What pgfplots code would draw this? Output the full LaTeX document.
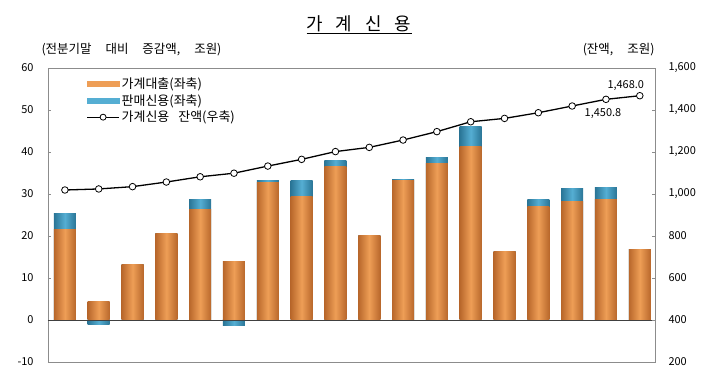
\documentclass[border=0pt]{standalone}
\usepackage{fontspec}
\setmainfont{Noto Sans CJK KR}
\usepackage{pgfplots}
\usepackage{pgfplotstable}
\pgfplotsset{compat=1.18}
\definecolor{org}{HTML}{EE9E56}
\definecolor{orgdark}{HTML}{B8672B}
\definecolor{blu}{HTML}{55AED3}
\definecolor{bludark}{HTML}{2A7596}
\definecolor{axgray}{HTML}{8C8C8C}

\pgfplotstableread{
x loan sales balance
0 21.5 3.9 1019
1 4.5 -1.0 1024
2 13.3 0 1035
3 20.5 0 1057
4 26.3 2.3 1082
5 14.0 -1.2 1099
6 32.7 0.4 1133
7 29.4 3.8 1165
8 36.5 1.4 1202
9 20.2 0 1222
10 33.2 0.3 1257
11 37.3 1.4 1297
12 41.3 4.7 1344
13 16.4 0 1360
14 27.1 1.5 1387
15 28.2 3.0 1419
16 28.6 2.9 1450.8
17 16.8 0 1468.0
}\data

\begin{document}
\begin{tikzpicture}
\path[use as bounding box] (0,0) rectangle (720bp,370bp);
\begin{axis}[
  at={(48bp,8bp)}, anchor=south west,
  width=607bp, height=294bp, scale only axis,
  xmin=-0.5, xmax=17.45, ymin=-10, ymax=60,
  ytick={-10,0,...,60}, xtick=\empty, ytick pos=left,
  axis line style={axgray}, tick style={axgray},
  tick align=inside, major tick length=3bp,
  yticklabel style={font=\fontsize{11}{13}\selectfont, xshift=-11bp},
  /pgf/number format/assume math mode=true,
]
\pgfplotsinvokeforeach{0,...,17}{
\addplot[ybar, bar width=22bp, bar shift=0pt, draw=none,
  left color=bludark, right color=bludark, middle color=blu,
  restrict x to domain=#1:#1]
  table[x=x, y expr={\thisrow{sales}<0 ? \thisrow{sales} : \thisrow{loan}+\thisrow{sales}}] {\data};
\addplot[ybar, bar width=22bp, bar shift=0pt, draw=none,
  left color=orgdark, right color=orgdark, middle color=org,
  restrict x to domain=#1:#1]
  table[x=x, y=loan] {\data};
}
\draw[black!75, line width=0.8bp] (axis cs:-0.5,0) -- (axis cs:17.45,0);
\end{axis}
\begin{axis}[
  at={(48bp,8bp)}, anchor=south west,
  width=607bp, height=294bp, scale only axis,
  xmin=-0.5, xmax=17.45, ymin=200, ymax=1600,
  ytick={200,400,...,1600},
  axis y line*=right, axis x line=none,
  axis line style={axgray}, tick style={axgray},
  tick align=inside, major tick length=3bp,
  yticklabel style={font=\fontsize{11}{13}\selectfont, xshift=10bp},
  /pgf/number format/assume math mode=true,
  /pgf/number format/1000 sep={,},
  legend style={at={(0.063,0.975)}, anchor=north west, draw=none, fill=none,
    font=\fontsize{13}{15}\selectfont, row sep=0.5bp, inner sep=0pt},
  legend cell align=left,
]
\addlegendimage{legend image code/.code={\fill[org] (0bp,-2.5bp) rectangle (32bp,2.5bp);}}
\addlegendentry{가계대출(좌축)}
\addlegendimage{legend image code/.code={\fill[blu] (0bp,-2.5bp) rectangle (32bp,2.5bp);}}
\addlegendentry{판매신용(좌축)}
\addplot[black, line width=1.3bp, mark=*, mark size=3.3bp,
  mark options={fill=white, draw=black, line width=0.8bp},
  legend image code/.code={\draw[black, line width=1.3bp] (0bp,0bp) -- (32bp,0bp);
    \draw[black, fill=white, line width=0.8bp] (16bp,0bp) circle (3bp);}]
  table[x=x, y=balance] {\data};
\addlegendentry{가계신용\hspace{9bp}잔액(우축)}
\node[font=\fontsize{11}{13}\selectfont] at (axis cs:17,1468) [xshift=-14bp, yshift=10bp] {1,468.0};
\node[font=\fontsize{11}{13}\selectfont] at (axis cs:16,1450.8) [xshift=-3bp, yshift=-14bp] {1,450.8};
\end{axis}
\node[font=\fontsize{18}{20}\selectfont] at (359bp,345bp) {\underline{가\hspace{13bp}계\hspace{13bp}신\hspace{13bp}용}};
\node[anchor=west, font=\fontsize{12.5}{14}\selectfont] at (38bp,320bp) {(전분기말\hspace{14bp}대비\hspace{14bp}증감액,\hspace{14bp}조원)};
\node[anchor=east, font=\fontsize{12.5}{14}\selectfont] at (658bp,320bp) {(잔액,\hspace{14bp}조원)};
\end{tikzpicture}
\end{document}
